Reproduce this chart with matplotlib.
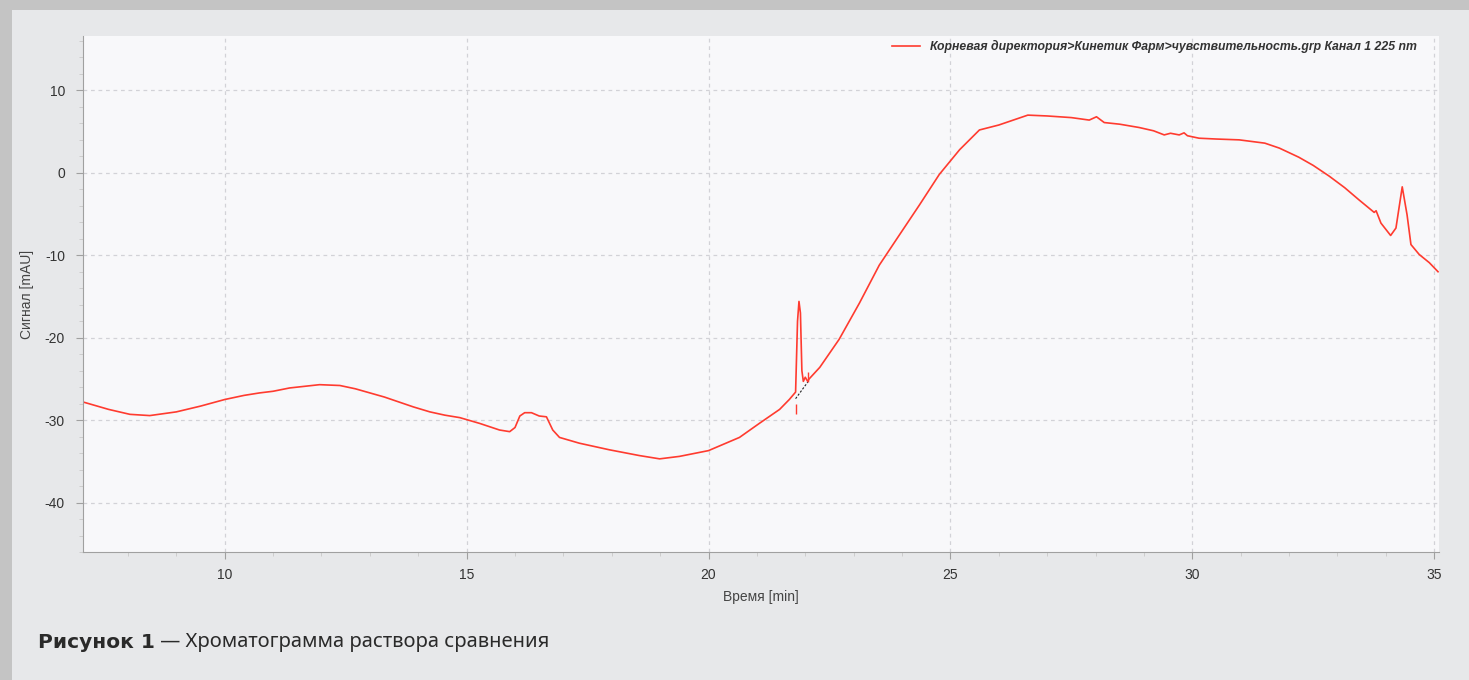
import matplotlib.pyplot as plt
from matplotlib.patches import Rectangle
from matplotlib.ticker import MultipleLocator

# chromatogram trace
time_min = [7.07, 7.6, 8.04, 8.45, 9.0, 9.5, 10.0, 10.4, 10.72, 11.0, 11.34, 11.65, 11.96,
            12.38, 12.7, 13.0, 13.3, 13.6, 13.9, 14.24, 14.55, 14.86, 15.27, 15.68, 15.89,
            16.0, 16.1, 16.2, 16.34, 16.5, 16.65, 16.78, 16.92, 17.33, 17.95, 18.57, 18.99,
            19.4, 20.0, 20.64, 21.05, 21.47, 21.67, 21.8, 21.84, 21.87, 21.9, 21.93, 21.96,
            22.0, 22.05, 22.08, 22.3, 22.7, 23.12, 23.53, 23.95, 24.36, 24.77, 25.19, 25.6,
            26.0, 26.2, 26.6, 27.0, 27.5, 27.87, 28.02, 28.18, 28.5, 28.9, 29.2, 29.42,
            29.55, 29.73, 29.83, 29.9, 30.14, 30.5, 30.97, 31.5, 31.8, 32.2, 32.5, 32.83,
            33.15, 33.45, 33.76, 33.8, 33.9, 34.1, 34.21, 34.34, 34.44, 34.52, 34.69,
            34.9, 35.08]
signal_mau = [-27.8, -28.7, -29.3, -29.45, -29.0, -28.3, -27.5, -27.0, -26.7, -26.5, -26.1,
              -25.9, -25.7, -25.8, -26.2, -26.7, -27.2, -27.8, -28.4, -29.0, -29.4, -29.7,
              -30.4, -31.2, -31.4, -30.9, -29.5, -29.1, -29.1, -29.5, -29.6, -31.2, -32.1,
              -32.8, -33.6, -34.3, -34.7, -34.4, -33.7, -32.1, -30.4, -28.7, -27.5, -26.6,
              -18.0, -15.6, -17.0, -24.0, -25.3, -24.8, -25.3, -25.0, -23.6, -20.2, -15.8,
              -11.2, -7.5, -3.9, -0.2, 2.8, 5.2, 5.8, 6.2, 7.0, 6.9, 6.7, 6.4, 6.8, 6.1,
              5.9, 5.5, 5.1, 4.6, 4.8, 4.6, 4.85, 4.5, 4.2, 4.1, 4.0, 3.6, 3.0, 1.9, 0.9,
              -0.4, -1.8, -3.3, -4.8, -4.6, -6.1, -7.6, -6.7, -1.7, -5.1, -8.7, -9.9,
              -10.9, -12.0]

peak_start = (21.8, -27.4)
peak_end = (22.05, -25.4)

legend_label = 'Корневая директория>Кинетик Фарм>чувствительность.grp Канал 1 225 nm'
x_label = 'Время [min]'
y_label = 'Сигнал [mAU]'
caption_bold = 'Рисунок 1'
caption_rest = ' — Хроматограмма раствора сравнения'

plt.rcParams['font.family'] = ['Liberation Sans', 'DejaVu Sans']
plt.rcParams['axes.unicode_minus'] = False

fig = plt.figure(figsize=(14.69, 6.8), dpi=100)
fig.patch.set_facecolor('#c4c4c4')
fig.patches.append(Rectangle((12 / 1469, 0), 1, 1 - 10 / 680, transform=fig.transFigure,
                             facecolor='#e7e8ea', edgecolor='none', zorder=-10))

ax = fig.add_axes([83 / 1469, 128 / 680, 1356 / 1469, 516 / 680])
ax.set_facecolor('#f8f8fa')

ax.plot(time_min, signal_mau, color='#ff3b2f', linewidth=1.2, label=legend_label)
# integration baseline and start/end marks of the small peak
ax.plot([peak_start[0], peak_end[0]], [peak_start[1], peak_end[1]], color='#222222',
        linewidth=0.8, linestyle=(0, (2, 1.5)))
ax.plot([peak_start[0]], [peak_start[1] - 1.2], marker='|', color='#ff3b2f', markersize=7)
ax.plot([peak_end[0]], [peak_end[1] + 0.6], marker='|', color='#ff3b2f', markersize=7)

ax.set_xlim(7.07, 35.1)
ax.set_ylim(-46, 16.6)
ax.xaxis.set_major_locator(MultipleLocator(5))
ax.xaxis.set_minor_locator(MultipleLocator(1))
ax.yaxis.set_major_locator(MultipleLocator(10))
ax.yaxis.set_minor_locator(MultipleLocator(2))

ax.grid(which='major', color='#d2d2d7', linestyle=(0, (3, 3)), linewidth=0.9)
for s in ['top', 'right']:
    ax.spines[s].set_visible(False)
for s in ['left', 'bottom']:
    ax.spines[s].set_color('#a0a0a0')
ax.tick_params(which='major', length=5, color='#a0a0a0', labelsize=10, labelcolor='#333333')
ax.tick_params(axis='x', which='major', pad=6.5)
ax.tick_params(axis='y', which='major', pad=8)
ax.tick_params(which='minor', length=3, color='#c8c8c8')

ax.set_xlabel(x_label, fontsize=10, color='#444444', labelpad=6)
ax.set_ylabel(y_label, fontsize=10, color='#444444', labelpad=8)

leg = ax.legend(loc='upper right', frameon=False, handlelength=2.3, handletextpad=0.8,
                prop={'size': 8.8, 'weight': 'bold', 'style': 'italic'},
                bbox_to_anchor=(0.992, 1.014))
for t in leg.get_texts():
    t.set_color('#333333')

cap_y = 1 - 642 / 680
t1 = fig.text(38 / 1469, cap_y, caption_bold, fontsize=14.5, fontweight='bold',
              color='#2a2a2a', va='center', family=['DejaVu Sans'])
fig.canvas.draw()
bb = t1.get_window_extent(fig.canvas.get_renderer())
fig.text(bb.x1 / 1469, cap_y, caption_rest, fontsize=14.5, color='#2a2a2a', va='center',
         family=['Noto Sans', 'DejaVu Sans'])

fig.savefig('out.png', dpi=100)
